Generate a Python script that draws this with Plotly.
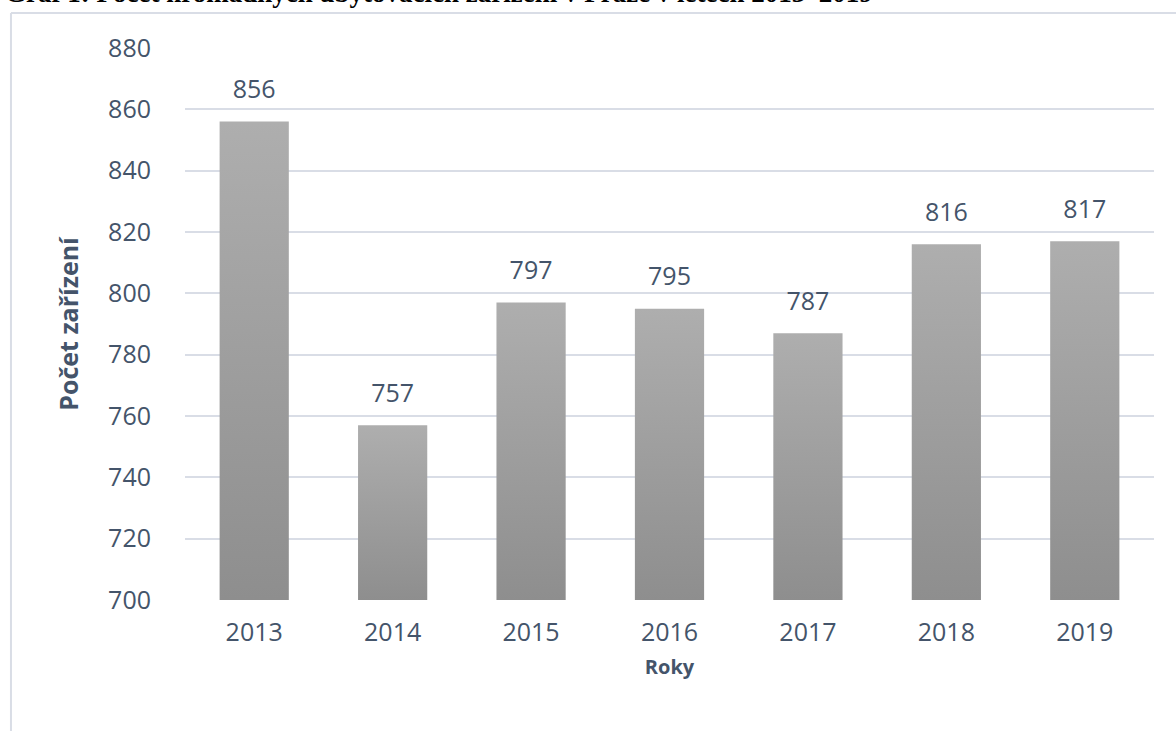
import plotly.graph_objects as go

# data
years = ["2013", "2014", "2015", "2016", "2017", "2018", "2019"]
counts = [856, 757, 797, 795, 787, 816, 817]

TXT = "#44546A"
GRID = "#D9DDE6"
BASE = 700
HALF = 0.25  # half bar width, in category units

fig = go.Figure()

# bars drawn as filled shapes so they can carry the vertical grey gradient
for i, v in enumerate(counts):
    fig.add_trace(go.Scatter(
        x=[i - HALF, i + HALF, i + HALF, i - HALF, i - HALF],
        y=[BASE, BASE, v, v, BASE],
        mode="lines",
        line=dict(width=0, color="#9a9a9a"),
        fill="toself",
        fillgradient=dict(type="vertical",
                          colorscale=[[0, "#8e8e8e"], [1, "#aeaeae"]]),
        hoverinfo="skip",
        showlegend=False,
    ))

# value labels (transparent markers push the text above the bar top)
fig.add_trace(go.Scatter(
    x=list(range(len(years))), y=counts,
    mode="markers+text", text=[str(v) for v in counts],
    marker=dict(size=26, color="rgba(0,0,0,0)"),
    textposition="top center",
    textfont=dict(family="Open Sans", size=25, color=TXT),
    showlegend=False, hoverinfo="skip",
))

fig.update_layout(
    width=1176, height=731,
    margin=dict(l=185, r=22, t=48, b=131),
    paper_bgcolor="white", plot_bgcolor="white",
    font=dict(family="Open Sans", color=TXT),
    xaxis=dict(
        range=[-0.5, len(years) - 0.5],
        tickvals=list(range(len(years))), ticktext=years,
        showgrid=False, zeroline=False, showline=False,
        tickfont=dict(size=25, color=TXT),
        ticklabelstandoff=15,
        title=dict(text="<b>Roky</b>", font=dict(size=20, color=TXT), standoff=12),
    ),
    yaxis=dict(
        range=[700, 880], dtick=20,
        showgrid=True, gridcolor=GRID, gridwidth=2,
        zeroline=False, showline=False,
        tickfont=dict(size=25, color=TXT),
        ticklabelstandoff=33,
        title=dict(text="<b>Počet zařízení</b>", font=dict(size=25, color=TXT), standoff=22),
    ),
)

# chart frame (top and left edges visible in the reference)
fig.add_shape(type="line", xref="paper", yref="paper",
              x0=-0.1796, x1=1.05, y0=1.0634, y1=1.0634,
              line=dict(color=GRID, width=2))
fig.add_shape(type="line", xref="paper", yref="paper",
              x0=-0.1796, x1=-0.1796, y0=1.0634, y1=-0.25,
              line=dict(color=GRID, width=2))

# document caption, cut off at the top of the image
fig.add_annotation(
    text="<b>Graf 1: Počet hromadných ubytovacích zařízení v Praze v letech 2013–2019</b>",
    xref="paper", yref="paper", x=-0.188, y=1.069,
    xanchor="left", yanchor="bottom", showarrow=False,
    font=dict(family="Liberation Serif", size=27, color="black"),
)

fig.write_html("out.html", config={"displayModeBar": False},
               post_script="document.body.style.margin='0';")
